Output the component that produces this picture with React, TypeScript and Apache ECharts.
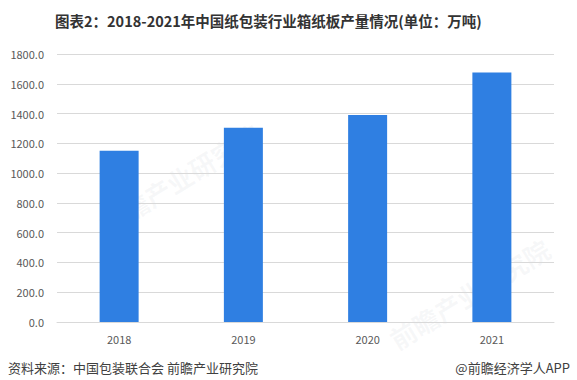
import React, { useEffect, useRef } from "react";
import * as echarts from "echarts";

const categories = ["2018", "2019", "2020", "2021"];
const values = [1150, 1305, 1390, 1675];
const titleText = "图表2：2018-2021年中国纸包装行业箱纸板产量情况(单位：万吨)";
const sourceText = "资料来源：中国包装联合会 前瞻产业研究院";
const brandText = "@前瞻经济学人APP";
const watermarkText = "前瞻产业研究院";

export default function App() {
  const ref = useRef<HTMLDivElement>(null);
  useEffect(() => {
    if (!ref.current) return;
    const chart = echarts.init(ref.current, null, { renderer: "svg" });
    const font = "'Microsoft YaHei', 'Noto Sans CJK SC', sans-serif";
    const wm = (x: number, y: number) => ({
      type: "text",
      x,
      y,
      rotation: 0.55,
      silent: true,
      z: -1,
      style: { text: watermarkText, fill: "rgba(160,170,185,0.09)", fontSize: 26, fontWeight: "bold", fontFamily: font },
    });
    chart.setOption({
      animation: false,
      backgroundColor: "#ffffff",
      title: {
        text: titleText,
        left: 50,
        top: 8,
        textStyle: { fontSize: 14.5, fontWeight: "bold", color: "#333333", fontFamily: font },
      },
      grid: { left: 57, right: 23, top: 54, bottom: 58 },
      xAxis: {
        type: "category",
        data: categories,
        axisLine: { show: true, lineStyle: { color: "#d9d9d9" } },
        axisTick: { show: false },
        axisLabel: { color: "#595959", fontSize: 11, margin: 11, fontFamily: font },
      },
      yAxis: {
        type: "value",
        min: 0,
        max: 1800,
        interval: 200,
        axisLine: { show: false },
        axisTick: { show: false },
        splitLine: { lineStyle: { color: "#d9d9d9" } },
        axisLabel: {
          color: "#595959",
          fontSize: 11,
          margin: 13,
          fontFamily: font,
          formatter: (v: number) => v.toFixed(1),
        },
      },
      series: [
        {
          type: "bar",
          data: values,
          barWidth: 39,
          itemStyle: { color: "#2f7fe2" },
        },
      ],
      graphic: [
        {
          type: "text",
          left: 8,
          top: 361,
          style: { text: sourceText, fill: "#404040", fontSize: 13, fontFamily: font },
        },
        {
          type: "text",
          right: 7,
          top: 361,
          style: { text: brandText, fill: "#404040", fontSize: 13, fontFamily: font },
        },
        wm(95, 215),
        wm(385, 330),
      ],
    });
    return () => chart.dispose();
  }, []);
  return (
    <div
      ref={ref}
      style={{ position: "fixed", left: 0, top: 0, width: 577, height: 380 }}
    />
  );
}
